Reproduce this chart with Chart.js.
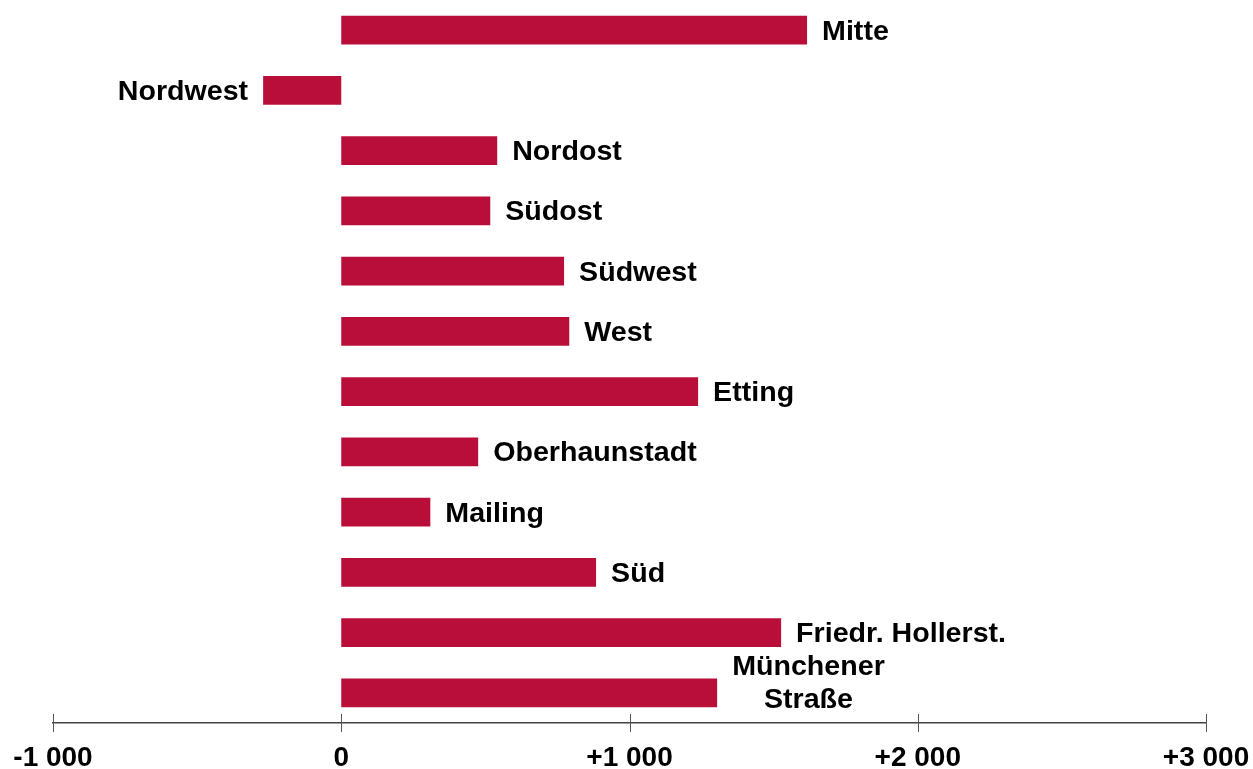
<!DOCTYPE html>
<html>
<head>
<meta charset="utf-8">
<script src="https://cdn.jsdelivr.net/npm/chart.js@4.4.0/dist/chart.umd.min.js"></script>
<style>
  html, body { margin: 0; padding: 0; background: #fff; }
  #wrap { width: 1253px; height: 769px; position: relative; }
</style>
</head>
<body>
<div id="wrap"><canvas id="myChart"></canvas></div>
<script>
"use strict";

const districts = [
  "Mitte",
  "Nordwest",
  "Nordost",
  "Südost",
  "Südwest",
  "West",
  "Etting",
  "Oberhaunstadt",
  "Mailing",
  "Süd",
  "Friedr. Hollerst.",
  ["Münchener", "Straße"],
];
const change = [1616, -271, 541, 517, 773, 791, 1238, 475, 309, 884, 1526, 1304];
const tickValues = [-1000, 0, 1000, 2000, 3000];
const tickLabels = ["-1 000", "0", "+1 000", "+2 000", "+3 000"];

const barColor = "#b90e3a";
const fontFamily = "'Liberation Sans', Arial, sans-serif";
const stretch = 1.06; // the original lettering is a bit wider than Liberation

function drawText(ctx, text, x, y) {
  ctx.save();
  ctx.translate(x, y);
  ctx.scale(stretch, 1);
  ctx.fillText(text, 0, 0);
  ctx.restore();
}

// names next to the bar ends
const barLabels = {
  id: "barLabels",
  afterDatasetsDraw(chart) {
    const ctx = chart.ctx;
    const meta = chart.getDatasetMeta(0);
    ctx.save();
    ctx.font = "bold 27px " + fontFamily;
    ctx.fillStyle = "#000";
    ctx.textBaseline = "middle";
    meta.data.forEach((bar, i) => {
      let name = districts[i];
      let lines = Array.isArray(name) ? name : [name];
      let neg = change[i] < 0;
      if (lines.length === 1) {
        ctx.textAlign = neg ? "right" : "left";
        drawText(ctx, lines[0], neg ? bar.x - 15 : bar.x + 15, bar.y + 2);
      } else {
        let w = Math.max(...lines.map((l) => ctx.measureText(l).width)) * stretch;
        let cx = bar.x + 15 + w / 2;
        let lh = 33;
        let top = bar.y - 9 - (lh * (lines.length - 1)) / 2;
        ctx.textAlign = "center";
        lines.forEach((l, k) => drawText(ctx, l, cx, top + k * lh));
      }
    });
    ctx.restore();
  },
};

// tick marks crossing the axis line
const crossTicks = {
  id: "crossTicks",
  afterDraw(chart) {
    const ctx = chart.ctx;
    const xs = chart.scales.x;
    const y = chart.chartArea.bottom;
    ctx.save();
    ctx.strokeStyle = "#555";
    ctx.lineWidth = 1;
    tickValues.forEach((v) => {
      let px = Math.round(xs.getPixelForValue(v)) + 0.5;
      ctx.beginPath();
      ctx.moveTo(px, y - 9);
      ctx.lineTo(px, y + 9);
      ctx.stroke();
    });
    ctx.restore();
  },
};

const config = {
  type: "bar",
  data: {
    labels: districts,
    datasets: [
      {
        data: change,
        backgroundColor: barColor,
        borderWidth: 0,
        barPercentage: 0.48,
        categoryPercentage: 1,
      },
    ],
  },
  options: {
    indexAxis: "y",
    responsive: true,
    maintainAspectRatio: false,
    animation: false,
    layout: { padding: { left: 53, right: 47, top: 0, bottom: 0 } },
    plugins: {
      legend: { display: false },
      tooltip: { enabled: false },
    },
    scales: {
      y: { display: false },
      x: {
        min: -1000,
        max: 3000,
        afterBuildTicks(scale) {
          scale.ticks = tickValues.map((v) => ({ value: v }));
        },
        afterFit(scale) {
          scale.height = 46;
          scale.paddingLeft = 0;
          scale.paddingRight = 0;
        },
        grid: { display: false },
        border: { display: true, color: "#444", width: 1.5 },
        ticks: {
          autoSkip: false,
          maxRotation: 0,
          padding: 10,
          color: "#000",
          font: { family: fontFamily, size: 28, weight: "bold" },
          callback: (v) => tickLabels[tickValues.indexOf(v)],
        },
      },
    },
  },
  plugins: [barLabels, crossTicks],
};

new Chart(document.getElementById("myChart"), config);
</script>
</body>
</html>
